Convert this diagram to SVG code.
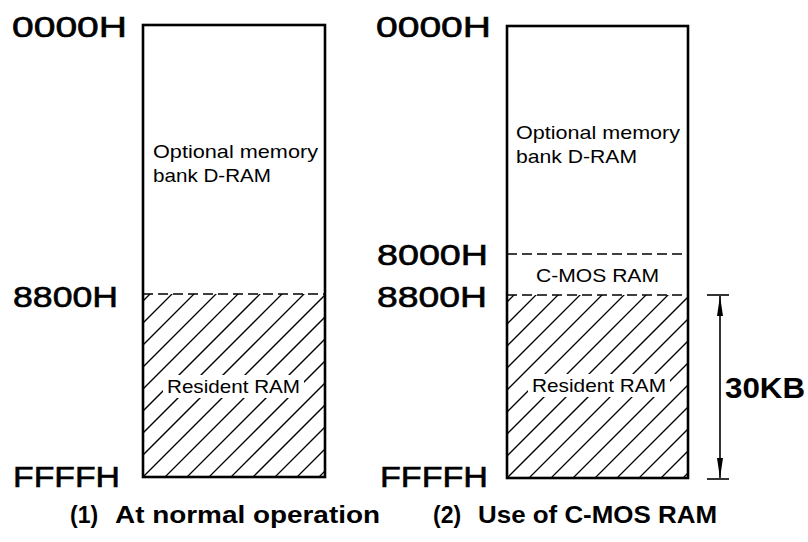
<svg xmlns="http://www.w3.org/2000/svg" width="808" height="542" viewBox="0 0 808 542">
<style>
.box{fill:none;stroke:#000;stroke-width:2.6}
.dash{fill:none;stroke:#000;stroke-width:1.6;stroke-dasharray:10 5}
.hatch{fill:none;stroke:#000;stroke-width:1.3}
.hex{font-family:"Liberation Sans",Arial,sans-serif;font-size:30px;fill:#000;stroke:#000;stroke-width:0.6}
.lbl{font-family:"Liberation Sans",Arial,sans-serif;font-size:18.5px;fill:#000}
.cap{font-family:"Liberation Sans",Arial,sans-serif;font-size:23px;font-weight:bold;fill:#000}
.dim{stroke:#000;stroke-width:1.6;fill:none}
</style>
<defs>
<clipPath id="clip1"><rect x="143" y="294" width="182" height="183"/></clipPath>
<clipPath id="clip2"><rect x="507" y="295" width="181" height="183"/></clipPath>
<path id="hatchLines" class="hatch" d="M-56,500 L174,270 M-34,500 L196,270 M-12,500 L218,270 M10,500 L240,270 M32,500 L262,270 M54,500 L284,270 M76,500 L306,270 M98,500 L328,270 M120,500 L350,270 M142,500 L372,270 M164,500 L394,270 M186,500 L416,270 M208,500 L438,270 M230,500 L460,270 M252,500 L482,270 M274,500 L504,270 M296,500 L526,270"/>
<marker id="arr" viewBox="0 0 20 8" refX="20" refY="4" markerWidth="20" markerHeight="8" markerUnits="userSpaceOnUse" orient="auto-start-reverse">
<path d="M0,1 L20,4 L0,7 Z" fill="#000"/>
</marker>
</defs>

<g id="map1">
<g clip-path="url(#clip1)"><use href="#hatchLines"/></g>
<line class="dash" x1="143" y1="294" x2="325" y2="294"/>
<rect class="box" x="143" y="25" width="182" height="452"/>
<text class="lbl" x="153" y="158" textLength="165" lengthAdjust="spacingAndGlyphs">Optional memory</text>
<text class="lbl" x="153" y="182" textLength="118" lengthAdjust="spacingAndGlyphs">bank D-RAM</text>
<rect x="163" y="375" width="141" height="23" fill="#fff"/>
<text class="lbl" x="167" y="393" textLength="133" lengthAdjust="spacingAndGlyphs">Resident RAM</text>
</g>

<g id="map2">
<g clip-path="url(#clip2)"><use href="#hatchLines" transform="translate(364,1)"/></g>
<line class="dash" x1="507" y1="254" x2="688" y2="254"/>
<line class="dash" x1="507" y1="295" x2="688" y2="295"/>
<rect class="box" x="507" y="26" width="181" height="452"/>
<text class="lbl" x="516" y="139" textLength="164" lengthAdjust="spacingAndGlyphs">Optional memory</text>
<text class="lbl" x="516" y="163" textLength="121" lengthAdjust="spacingAndGlyphs">bank D-RAM</text>
<text class="lbl" x="536" y="282" textLength="123" lengthAdjust="spacingAndGlyphs">C-MOS RAM</text>
<rect x="528" y="374" width="142" height="23" fill="#fff"/>
<text class="lbl" x="532" y="392" textLength="134" lengthAdjust="spacingAndGlyphs">Resident RAM</text>
</g>

<g id="addr1">
<text class="hex" x="12" y="37" textLength="115" lengthAdjust="spacingAndGlyphs">0000H</text>
<text class="hex" x="13" y="307" textLength="105" lengthAdjust="spacingAndGlyphs">8800H</text>
<text class="hex" x="13" y="487" textLength="107" lengthAdjust="spacingAndGlyphs">FFFFH</text>
</g>

<g id="addr2">
<text class="hex" x="376" y="37" textLength="115" lengthAdjust="spacingAndGlyphs">0000H</text>
<text class="hex" x="377" y="265" textLength="111" lengthAdjust="spacingAndGlyphs">8000H</text>
<text class="hex" x="377" y="307" textLength="110" lengthAdjust="spacingAndGlyphs">8800H</text>
<text class="hex" x="380" y="487" textLength="108" lengthAdjust="spacingAndGlyphs">FFFFH</text>
</g>

<g id="connectors">
<line class="dim" x1="707" y1="295" x2="729" y2="295"/>
<line class="dim" x1="707" y1="479" x2="729" y2="479"/>
<line class="dim" x1="720" y1="296" x2="720" y2="478" marker-start="url(#arr)" marker-end="url(#arr)"/>
</g>

<g id="size">
<text x="725" y="398" font-family="Liberation Sans, Arial, sans-serif" font-size="29" font-weight="bold" textLength="80" lengthAdjust="spacingAndGlyphs">30KB</text>
</g>

<g id="captions">
<text class="cap" x="70" y="523">(1)</text>
<text class="cap" x="115" y="523" textLength="265" lengthAdjust="spacingAndGlyphs">At normal operation</text>
<text class="cap" x="433" y="523">(2)</text>
<text class="cap" x="478" y="523" textLength="239" lengthAdjust="spacingAndGlyphs">Use of C-MOS RAM</text>
</g>
</svg>
